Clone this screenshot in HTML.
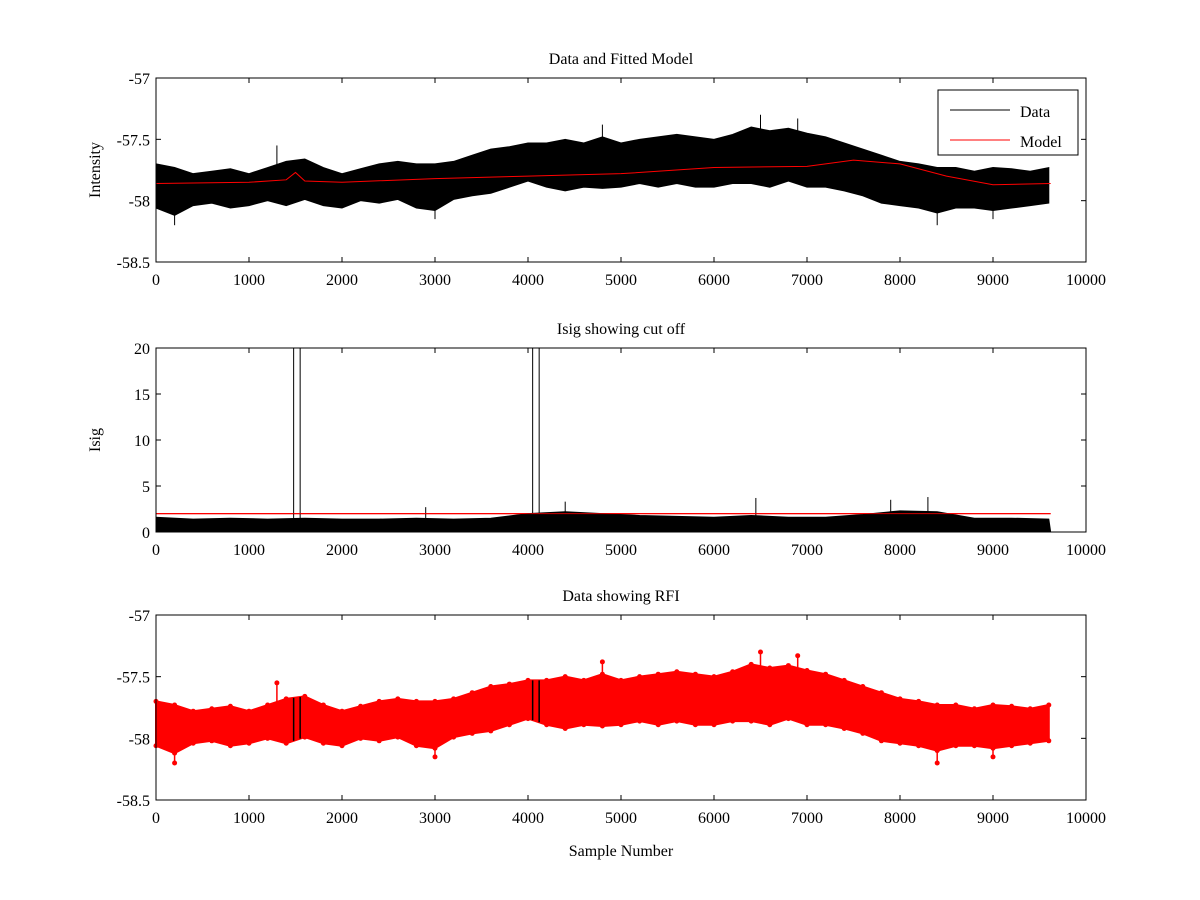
<!DOCTYPE html>
<html>
<head>
<meta charset="utf-8">
<style>
  html,body{margin:0;padding:0;background:#fff;}
  svg{display:block;font-family:"Liberation Serif",serif;}
  text{font-size:16px;fill:#000;}
</style>
</head>
<body>
<svg id="chart" width="1200" height="900" viewBox="0 0 1200 900" xmlns="http://www.w3.org/2000/svg"></svg>
<script>
// ---- data (200-sample bins) ----
var binStep = 200;
var dataMax = [-57.70,-57.73,-57.78,-57.76,-57.74,-57.78,-57.73,-57.68,-57.66,-57.73,-57.78,-57.74,-57.70,-57.68,-57.70,-57.70,-57.68,-57.63,-57.58,-57.56,-57.53,-57.53,-57.50,-57.53,-57.48,-57.53,-57.50,-57.48,-57.46,-57.48,-57.50,-57.46,-57.40,-57.43,-57.41,-57.45,-57.48,-57.53,-57.58,-57.63,-57.68,-57.70,-57.73,-57.73,-57.76,-57.73,-57.74,-57.76,-57.73];
var dataMin = [-58.06,-58.12,-58.04,-58.02,-58.06,-58.04,-58.00,-58.04,-57.99,-58.04,-58.06,-58.00,-58.02,-57.99,-58.06,-58.08,-57.99,-57.96,-57.94,-57.89,-57.84,-57.89,-57.92,-57.89,-57.90,-57.89,-57.86,-57.89,-57.86,-57.89,-57.89,-57.86,-57.86,-57.89,-57.84,-57.89,-57.89,-57.92,-57.96,-58.02,-58.04,-58.06,-58.10,-58.06,-58.06,-58.08,-58.06,-58.04,-58.02];
var spikeX = [200,1300,3000,4800,6500,6900,8400,9000];
var spikeV = [-58.2,-57.55,-58.15,-57.38,-57.3,-57.33,-58.2,-58.15];
var lastSample = 9620;
var modelX = [0,1000,1400,1500,1600,2000,3000,4000,5000,6000,7000,7500,8000,8500,9000,9620];
var modelY = [-57.86,-57.85,-57.83,-57.77,-57.84,-57.85,-57.82,-57.8,-57.78,-57.73,-57.72,-57.67,-57.7,-57.8,-57.87,-57.86];
var isigStep = 400;
var isigMax = [1.6,1.4,1.5,1.4,1.5,1.4,1.4,1.5,1.4,1.5,2.0,2.2,2.0,1.8,1.7,1.6,1.8,1.6,1.6,1.9,2.3,2.2,1.5,1.5,1.4];
var isigPeakX = [4400,6450,7900,8300,2900];
var isigPeakV = [3.3,3.7,3.5,3.8,2.7];
var isigSpikes = [1480,1550,4050,4120];
var cutoff = 2.0;
var xTicks = [0,1000,2000,3000,4000,5000,6000,7000,8000,9000,10000];
var yTicksData = [-57,-57.5,-58,-58.5];
var yTicksIsig = [0,5,10,15,20];

// ---- helpers ----
var svg = document.getElementById('chart');
var NS = 'http://www.w3.org/2000/svg';
function el(tag, attrs, parent){
  var e = document.createElementNS(NS, tag);
  for (var k in attrs) e.setAttribute(k, attrs[k]);
  (parent||svg).appendChild(e);
  return e;
}
var X0 = 156, X1 = 1086;
function sx(v){ return X0 + (v/10000)*(X1-X0); }
function interp(arr, s){
  var f = s/binStep, i = Math.floor(f), t = f-i;
  if (i >= arr.length-1) return arr[arr.length-1];
  return arr[i]*(1-t)+arr[i+1]*t;
}

function makeAxes(name, top, bottom, ymin, ymax, yticks, title, ylabel, showXLabel){
  var g = el('g', {});
  
  
  function sy(v){ return bottom - (v-ymin)/(ymax-ymin)*(bottom-top); }
  var t = el('text', {x:(X0+X1)/2, y:top-14, 'text-anchor':'middle'}, g);
  t.textContent = title;
  
  
  if (ylabel){
    var yl = el('text', {x:0, y:0, 'text-anchor':'middle', transform:'translate(100,'+((top+bottom)/2)+') rotate(-90)'}, g);
    yl.textContent = ylabel;
    
    
  }
  var xt = el('g', {}, g);
  
  
  xTicks.forEach(function(v){
    var x = sx(v);
    el('line', {x1:x, x2:x, y1:bottom, y2:bottom-5, stroke:'#000'}, xt);
    el('line', {x1:x, x2:x, y1:top, y2:top+5, stroke:'#000'}, xt);
    var tl = el('text', {x:x, y:bottom+23, 'text-anchor':'middle'}, xt);
    tl.textContent = v;
  });
  var yt = el('g', {}, g);
  
  
  yticks.forEach(function(v){
    var y = sy(v);
    el('line', {x1:X0, x2:X0+5, y1:y, y2:y, stroke:'#000'}, yt);
    el('line', {x1:X1, x2:X1-5, y1:y, y2:y, stroke:'#000'}, yt);
    var tl = el('text', {x:X0-6, y:y+6, 'text-anchor':'end'}, yt);
    tl.textContent = v;
  });
  if (showXLabel){
    var xl = el('text', {x:(X0+X1)/2, y:bottom+56, 'text-anchor':'middle'}, g);
    xl.textContent = 'Sample Number';
    
    
  }
  return {g:g, sy:sy, top:top, bottom:bottom};
}
function frame(ax){
  var r = el('rect', {x:X0, y:ax.top, width:X1-X0, height:ax.bottom-ax.top, fill:'none', stroke:'#000'}, ax.g);
  
  
}
function bandPath(ax){
  var pts = [];
  for (var i=0;i<dataMax.length;i++){ pts.push(sx(Math.min(i*binStep,lastSample))+','+ax.sy(dataMax[i])); }
  for (var j=dataMin.length-1;j>=0;j--){ pts.push(sx(Math.min(j*binStep,lastSample))+','+ax.sy(dataMin[j])); }
  return pts.join(' ');
}

// ---- panel 1 ----
var a1 = makeAxes('data-panel', 78, 262, -58.5, -57, yTicksData, 'Data and Fitted Model', 'Intensity', false);
var band1 = el('polygon', {points:bandPath(a1), fill:'#000', stroke:'#000', 'stroke-width':1}, a1.g);


spikeX.forEach(function(s,i){
  var mid = (interp(dataMax,s)+interp(dataMin,s))/2;
  var sp = el('line', {x1:sx(s), x2:sx(s), y1:a1.sy(mid), y2:a1.sy(spikeV[i]), stroke:'#000', 'stroke-width':1}, a1.g);
  
  
});
var mp = modelX.map(function(v,i){ return sx(v)+','+a1.sy(modelY[i]); }).join(' ');
var model = el('polyline', {points:mp, fill:'none', stroke:'#f00', 'stroke-width':1}, a1.g);


frame(a1);
var lg = el('g', {}, a1.g);


el('rect', {x:938, y:90, width:140, height:65, fill:'#fff', stroke:'#000'}, lg);
el('line', {x1:950, x2:1010, y1:110, y2:110, stroke:'#000'}, lg);
var lt1 = el('text', {x:1020, y:117}, lg); lt1.textContent = 'Data';


el('line', {x1:950, x2:1010, y1:140, y2:140, stroke:'#f00'}, lg);
var lt2 = el('text', {x:1020, y:147}, lg); lt2.textContent = 'Model';



// ---- panel 2 ----
var a2 = makeAxes('isig-panel', 348, 532, 0, 20, yTicksIsig, 'Isig showing cut off', 'Isig', false);
var ip = [sx(0)+','+a2.sy(0)];
isigMax.forEach(function(v,i){ ip.push(sx(Math.min(i*isigStep,lastSample))+','+a2.sy(v)); });
ip.push(sx(lastSample)+','+a2.sy(0));
var co = el('line', {x1:sx(0), x2:sx(lastSample), y1:a2.sy(cutoff), y2:a2.sy(cutoff), stroke:'#f00', 'stroke-width':1.2}, a2.g);


var isig = el('polygon', {points:ip.join(' '), fill:'#000', stroke:'#000', 'stroke-width':1}, a2.g);


isigPeakX.forEach(function(s,i){
  var pk = el('line', {x1:sx(s), x2:sx(s), y1:a2.sy(0), y2:a2.sy(isigPeakV[i]), stroke:'#000', 'stroke-width':1}, a2.g);
  
  
});
isigSpikes.forEach(function(s){
  var sp = el('line', {x1:sx(s), x2:sx(s), y1:a2.sy(0), y2:a2.sy(20), stroke:'#000', 'stroke-width':1}, a2.g);
  
  
});
var co2 = el('line', {x1:sx(0), x2:sx(lastSample), y1:a2.sy(cutoff), y2:a2.sy(cutoff), stroke:'#f00', 'stroke-width':1, opacity:0.8}, a2.g);


frame(a2);

// ---- panel 3 ----
var a3 = makeAxes('rfi-panel', 615, 800, -58.5, -57, yTicksData, 'Data showing RFI', null, true);
var band3 = el('polygon', {points:bandPath(a3), fill:'#f00', stroke:'#f00', 'stroke-width':2, 'stroke-linejoin':'round'}, a3.g);


spikeX.forEach(function(s,i){
  var mid = (interp(dataMax,s)+interp(dataMin,s))/2;
  var sp = el('line', {x1:sx(s), x2:sx(s), y1:a3.sy(mid), y2:a3.sy(spikeV[i]), stroke:'#f00', 'stroke-width':1.5}, a3.g);
  
  
  var dp = el('circle', {cx:sx(s), cy:a3.sy(spikeV[i]), r:2.5, fill:'#f00'}, a3.g);
  
  
});
dataMax.forEach(function(v,i){
  var d1 = el('circle', {cx:sx(Math.min(i*binStep,lastSample)), cy:a3.sy(v), r:2.5, fill:'#f00'}, a3.g);
  
  
  var d2 = el('circle', {cx:sx(Math.min(i*binStep,lastSample)), cy:a3.sy(dataMin[i]), r:2.5, fill:'#f00'}, a3.g);
  
  
});
isigSpikes.forEach(function(s){
  var lo = interp(dataMin,s), hi = interp(dataMax,s);
  var bl = el('line', {x1:sx(s), x2:sx(s), y1:a3.sy(hi), y2:a3.sy(lo), stroke:'#000', 'stroke-width':1.5}, a3.g);
  
  
});
frame(a3);
</script>
</body>
</html>
